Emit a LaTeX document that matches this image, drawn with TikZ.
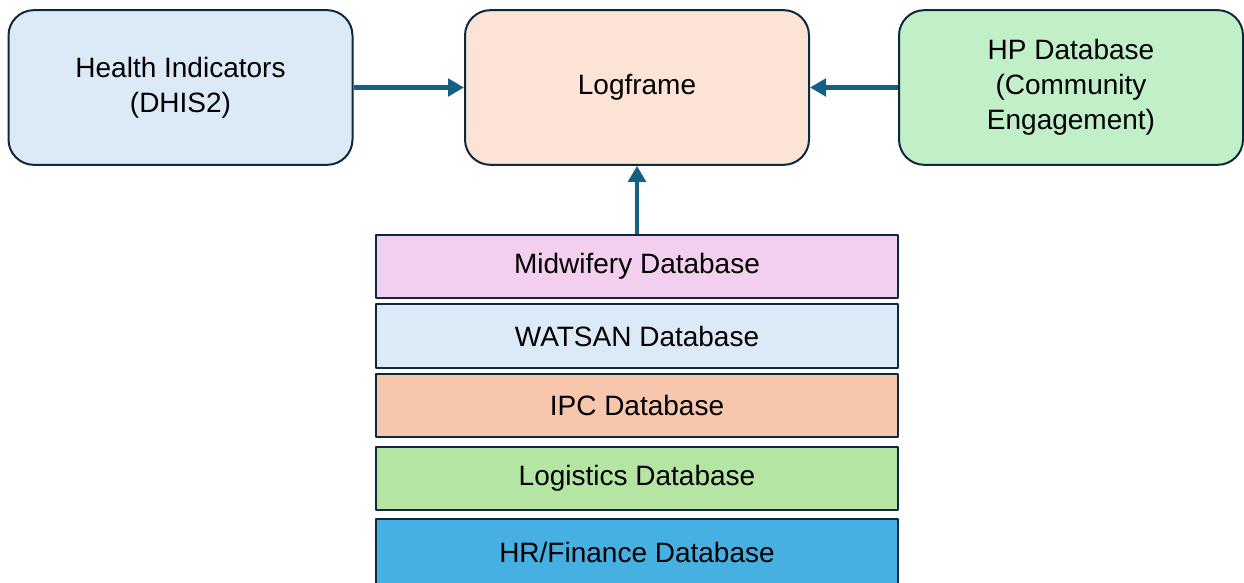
\documentclass[tikz,border=0pt]{standalone}
\usepackage{fontspec}
\setmainfont{Liberation Sans}
\usetikzlibrary{arrows.meta}

\definecolor{edge}{HTML}{0E2841}
\definecolor{flow}{HTML}{156082}
\definecolor{skyfill}{HTML}{DCEAF7}
\definecolor{peachfill}{HTML}{FBE3D6}
\definecolor{mintfill}{HTML}{C1F0C8}
\definecolor{pinkfill}{HTML}{F2CEEF}
\definecolor{salmonfill}{HTML}{F6C6AD}
\definecolor{leaffill}{HTML}{B4E5A2}
\definecolor{bluefill}{HTML}{45B0E1}

\begin{document}
\begin{tikzpicture}[x=0.75pt,y=0.75pt,font=\fontsize{21}{26.3}\selectfont,line join=round,
    topbox/.style={draw=edge,line width=1.5pt,rounded corners=19pt,align=center,
        minimum width=258pt,minimum height=116pt},
    dbbox/.style={draw=edge,line width=1.5pt,minimum width=391.5pt,minimum height=47.5pt},
    feed/.style={draw=flow,line width=3.2pt,-{Triangle[length=12pt,width=13pt]}}]
    \useasboundingbox (0,0) rectangle (1244,582);

    % sources and logframe
    \node[topbox,fill=skyfill]   (health) at (180.5,494.5) {Health Indicators\\(DHIS2)};
    \node[topbox,fill=peachfill] (logframe) at (637,494.5) {Logframe};
    \node[topbox,fill=mintfill]  (hp) at (1071,494.5) {HP Database\\(Community\\Engagement)};

    % stack of databases
    \node[dbbox,fill=pinkfill]   (midwifery) at (637,315.5) {Midwifery Database};
    \node[dbbox,fill=skyfill]    (watsan) at (637,246) {WATSAN Database};
    \node[dbbox,fill=salmonfill] (ipc) at (637,176.5) {IPC Database};
    \node[dbbox,fill=leaffill]   (logistics) at (637,103.5) {Logistics Database};
    \node[dbbox,fill=bluefill,minimum height=50pt] (hrfin) at (637,29.5) {HR/Finance Database};

    \draw[feed] (health.east) -- (logframe.west);
    \draw[feed] (hp.west) -- (logframe.east);
    \draw[feed] (midwifery.north) -- (logframe.south);
\end{tikzpicture}
\end{document}
